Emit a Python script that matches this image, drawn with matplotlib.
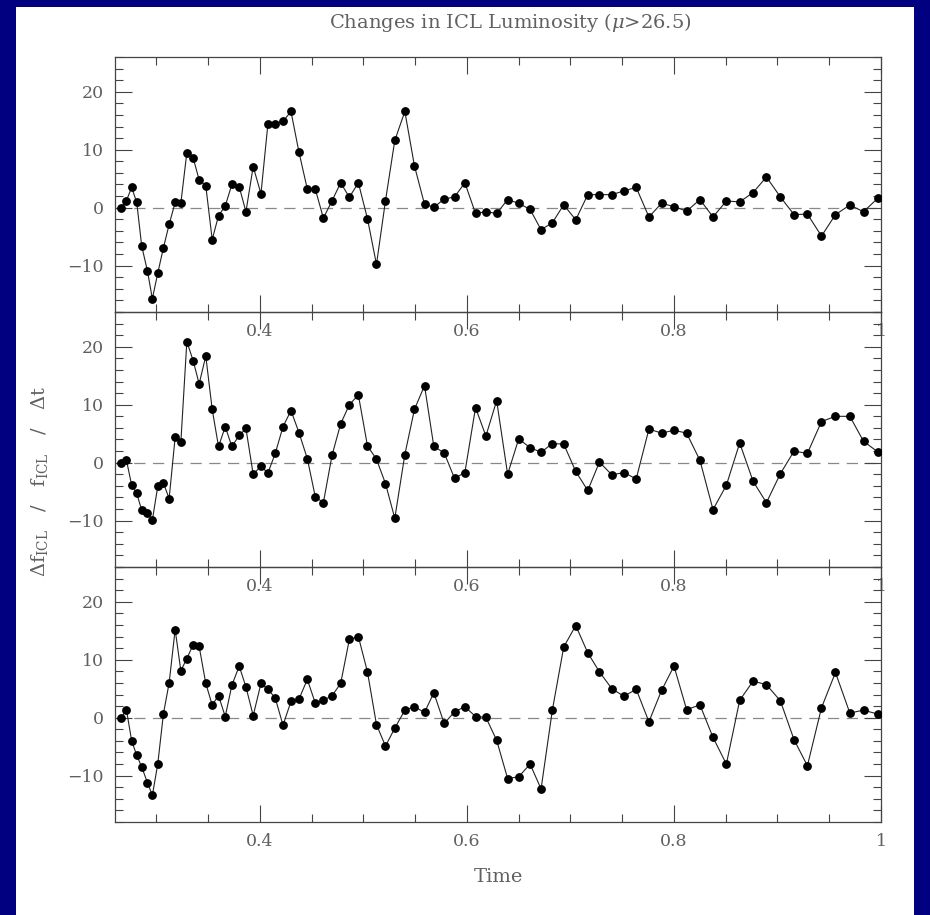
import matplotlib
matplotlib.use('Agg')
import matplotlib.pyplot as plt
from matplotlib.patches import Rectangle
from matplotlib.ticker import MultipleLocator, FixedLocator, FuncFormatter

# 時間 (simulation outputs)
time = [0.2661, 0.2710, 0.2761, 0.2810, 0.2858, 0.2913, 0.2961, 0.3013, 0.3068, 0.3123,
        0.3181, 0.3236, 0.3294, 0.3355, 0.3413, 0.3477, 0.3539, 0.3600, 0.3665, 0.3729,
        0.3800, 0.3865, 0.3935, 0.4010, 0.4077, 0.4148, 0.4223, 0.4300, 0.4377, 0.4458,
        0.4535, 0.4613, 0.4697, 0.4780, 0.4864, 0.4951, 0.5039, 0.5126, 0.5213, 0.5303,
        0.5400, 0.5493, 0.5590, 0.5680, 0.5780, 0.5880, 0.5980, 0.6083, 0.6183, 0.6287,
        0.6393, 0.6500, 0.6610, 0.6716, 0.6825, 0.6935, 0.7051, 0.7167, 0.7280, 0.7400,
        0.7516, 0.7635, 0.7758, 0.7880, 0.8000, 0.8122, 0.8251, 0.8377, 0.8506, 0.8635,
        0.8764, 0.8893, 0.9028, 0.9160, 0.9289, 0.9425, 0.9560, 0.9699, 0.9831, 0.9973]

# 上圖
top_vals = [0, 1.2, 3.5, 0.9, -6.6, -10.9, -15.7, -11.3, -6.9, -2.9,
            0.9, 0.75, 9.5, 8.6, 4.8, 3.8, -5.5, -1.4, 0.3, 4.0,
            3.6, -0.7, 7.1, 2.4, 14.4, 14.4, 14.9, 16.6, 9.6, 3.2,
            3.2, -1.8, 1.2, 4.3, 1.8, 4.3, -1.9, -9.8, 1.2, 11.6,
            16.6, 7.2, 0.6, 0.06, 1.5, 1.85, 4.3, -1.0, -0.7, -1.0,
            1.4, 0.75, -0.3, -3.8, -2.6, 0.5, -2.1, 2.25, 2.25, 2.25,
            2.9, 3.5, -1.6, 0.75, 0.2, -0.6, 1.4, -1.6, 1.15, 1.0,
            2.6, 5.3, 1.85, -1.2, -1.1, -4.9, -1.2, 0.46, -0.7, 1.7]

# 中圖
mid_vals = [-0.1, 0.5, -3.9, -5.3, -8.2, -8.6, -9.9, -4.1, -3.5, -6.2,
            4.4, 3.5, 20.9, 17.6, 13.6, 18.4, 9.2, 2.8, 6.2, 2.8,
            4.7, 5.9, -2.0, -0.6, -1.8, 1.6, 6.2, 9.0, 5.2, 0.7,
            -5.9, -6.9, 1.3, 6.7, 10.0, 11.7, 2.9, 0.6, -3.6, -9.6,
            1.4, 9.2, 13.3, 2.8, 1.7, -2.7, -1.7, 9.5, 4.6, 10.7,
            -2.0, 4.1, 2.6, 1.8, 3.3, 3.2, -1.5, -4.8, 0.1, -2.1,
            -1.7, -2.8, 5.8, 5.1, 5.6, 5.1, 0.4, -8.1, -3.9, 3.4,
            -3.2, -6.9, -1.9, 2.0, 1.6, 7.1, 8.0, 8.0, 3.7, 1.8]

# 下圖
bot_vals = [0, 1.4, -4.0, -6.5, -8.5, -11.2, -13.4, -8.0, 0.7, 6.0,
            15.2, 8.1, 10.2, 12.6, 12.3, 5.9, 2.2, 3.8, 0.2, 5.6,
            8.9, 5.3, 0.35, 5.9, 4.9, 3.4, -1.3, 2.8, 3.2, 6.6,
            2.5, 3.0, 3.8, 5.9, 13.5, 14.0, 7.9, -1.2, -4.9, -1.8,
            1.3, 1.9, 0.9, 4.3, -1.0, 1.0, 1.9, 0.2, 0.06, -3.9,
            -10.5, -10.2, -8.0, -12.3, 1.3, 12.2, 15.9, 11.2, 7.9, 5.0,
            3.7, 4.9, -0.7, 4.7, 8.9, 1.4, 2.2, -3.4, -8.0, 3.0,
            6.3, 5.7, 2.9, -3.8, -8.3, 1.7, 7.8, 0.8, 1.3, 0.6]

x_major = [0.4, 0.6, 0.8, 1.0]
y_major = [-10, 0, 10, 20]

plt.rcParams['font.family'] = ['DejaVu Serif']
plt.rcParams['mathtext.fontset'] = 'dejavuserif'
text_col = '#606060'
axis_col = '#444444'

W, H = 930, 915
fig = plt.figure(figsize=(W / 100, H / 100), dpi=100)
fig.patch.set_facecolor('#000080')
# 白色底
fig.patches.append(Rectangle((16 / W, 0), (914 - 16) / W, (H - 7) / H,
                             transform=fig.transFigure, facecolor='white',
                             edgecolor='none', zorder=-10))

left, right = 115, 881
tops = [57, 312, 567]
ph = 255
axes = []
for k, vals in enumerate([top_vals, mid_vals, bot_vals]):
    ax = fig.add_axes([left / W, 1 - (tops[k] + ph) / H, (right - left) / W, ph / H])
    ax.set_facecolor('none')
    ax.axhline(0, color='#888888', lw=0.9, dashes=(9, 6), zorder=1)
    ax.plot(time, vals, color='#222222', lw=0.8, marker='o', ms=5.3,
            mfc='black', mec='black', zorder=3)
    ax.set_xlim(0.26, 1.0)
    ax.set_ylim(-18, 26)
    ax.xaxis.set_major_locator(FixedLocator(x_major))
    ax.xaxis.set_minor_locator(MultipleLocator(0.05))
    ax.yaxis.set_major_locator(FixedLocator(y_major))
    ax.yaxis.set_minor_locator(MultipleLocator(2))
    ax.xaxis.set_major_formatter(FuncFormatter(lambda v, p: '%g' % v))
    ax.yaxis.set_major_formatter(FuncFormatter(lambda v, p: ('\u2212%g' % -v) if v < 0 else '%g' % v))
    ax.tick_params(which='both', direction='in', top=True, right=True,
                   color=axis_col, width=0.8, labelcolor=text_col, labelsize=12.5)
    ax.tick_params(which='major', length=12, pad=8)
    ax.tick_params(which='minor', length=6)
    for s in ax.spines.values():
        s.set_color(axis_col)
        s.set_linewidth(0.9)
    axes.append(ax)

# 標籤
fig.text(510 / W, 1 - 22 / H, r'Changes in ICL Luminosity ($\mu$>26.5)',
         ha='center', va='center', fontsize=14, color=text_col)
fig.text(498 / W, 1 - 877 / H, 'Time', ha='center', va='center',
         fontsize=14, color=text_col)
fig.text(40 / W, 1 - 482 / H, r'$\Delta$f$_{\rm ICL}$   /   f$_{\rm ICL}$   /   $\Delta$t',
         ha='center', va='center', rotation=90, fontsize=14, color=text_col)

plt.savefig('out.png', dpi=100, facecolor=fig.get_facecolor())
